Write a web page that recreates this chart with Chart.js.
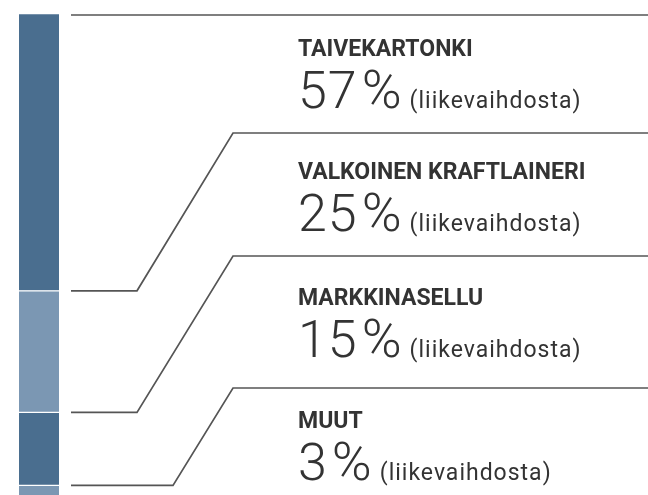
<!DOCTYPE html>
<html>
<head>
<meta charset="utf-8">
<script src="https://cdn.jsdelivr.net/npm/chart.js@4/dist/chart.umd.min.js"></script>
<style>
  html, body { margin: 0; padding: 0; background: #fff; overflow: hidden; width: 648px; height: 495px; }
  #wrap { width: 648px; height: 500px; }
</style>
</head>
<body>
<div id="wrap"><canvas id="c" width="648" height="500"></canvas></div>
<script>
// ---- Data ----
const categories = ['TAIVEKARTONKI', 'VALKOINEN KRAFTLAINERI', 'MARKKINASELLU', 'MUUT'];
const shares = [57, 25, 15, 3];            // % of net sales (liikevaihto)
const suffix = '(liikevaihdosta)';
const segColors = ['#4a6e8f', '#7b97b3', '#4a6e8f', '#7b97b3'];

// ---- Layout (positions only) ----
const labelLineY = [15, 133, 256, 388];     // y of the horizontal line over each label block
const elbowX = [137, 137, 137, 173];
const lineStartX = 71, diagEndX = 233;
const textX = 298;
const headBase = [56, 179, 305, 428];
const numGap = 51;

// stacked from bottom: reverse so the first category sits on top
const datasets = categories.map((c, i) => ({
  label: c,
  data: [shares[i]],
  backgroundColor: segColors[i],
  borderColor: '#ffffff',
  borderWidth: { top: 1, bottom: 1, left: 0, right: 0 },
  borderSkipped: false,
  barPercentage: 1,
  categoryPercentage: 1
})).reverse();

const leaderPlugin = {
  id: 'leaders',
  afterDraw(chart) {
    const ctx = chart.ctx;
    const y = chart.scales.y;
    let cum = shares.reduce((a, b) => a + b, 0);
    const tops = shares.map(v => { const t = cum; cum -= v; return t; });
    ctx.save();
    ctx.strokeStyle = '#555555';
    ctx.lineWidth = 1.7;
    tops.forEach((t, i) => {
      const py = i === 0 ? labelLineY[0] : y.getPixelForValue(t);
      ctx.beginPath();
      if (i === 0) {
        ctx.moveTo(lineStartX, labelLineY[0]);
        ctx.lineTo(chart.width, labelLineY[0]);
      } else {
        ctx.moveTo(lineStartX, py);
        ctx.lineTo(elbowX[i], py);
        ctx.lineTo(diagEndX, labelLineY[i]);
        ctx.lineTo(chart.width, labelLineY[i]);
      }
      ctx.stroke();
    });
    ctx.fillStyle = '#333333';
    ctx.textBaseline = 'alphabetic';
    ctx.textAlign = 'left';
    categories.forEach((c, i) => {
      ctx.letterSpacing = '0px';
      ctx.font = 'bold 23px Roboto';
      ctx.fillText(c, textX, headBase[i]);
      const nb = headBase[i] + numGap + 1;
      ctx.font = '300 52px Roboto';
      ctx.letterSpacing = '1px';
      const num = String(shares[i]);
      ctx.fillText(num, textX, nb);
      let x = textX + ctx.measureText(num).width + 4;
      ctx.font = '300 54px Roboto';
      ctx.letterSpacing = '0px';
      ctx.fillText('%', x, nb);
      x += ctx.measureText('%').width + 8;
      ctx.font = '23px Roboto';
      ctx.letterSpacing = '1px';
      ctx.fillText(suffix, x, nb);
    });
    ctx.restore();
  }
};

new Chart(document.getElementById('c'), {
  type: 'bar',
  data: { labels: [''], datasets },
  options: {
    responsive: false,
    animation: false,
    layout: { padding: { left: 19, right: 589, top: 13.5, bottom: 0 } },
    plugins: { legend: { display: false }, tooltip: { enabled: false } },
    scales: {
      x: { display: false, stacked: true },
      y: { display: false, stacked: true, min: 0, max: 100 }
    }
  },
  plugins: [leaderPlugin]
});
</script>
</body>
</html>
